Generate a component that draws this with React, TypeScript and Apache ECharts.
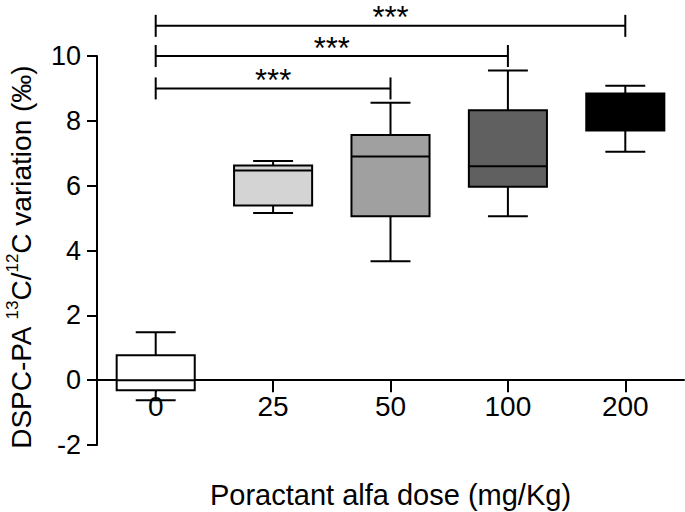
import React, { useEffect, useRef } from "react";
import * as echarts from "echarts";

const categories = ["0", "25", "50", "100", "200"];
const whiskerLow = [-0.62, 5.16, 3.67, 5.06, 7.05];
const quartile1 = [-0.31, 5.39, 5.06, 5.97, 7.7];
const medians = [0.0, 6.47, 6.9, 6.6, 8.3];
const quartile3 = [0.77, 6.62, 7.56, 8.33, 8.84];
const whiskerHigh = [1.48, 6.76, 8.56, 9.55, 9.08];
const boxFills = ["#ffffff", "#d4d4d4", "#a0a0a0", "#606060", "#000000"];

const yMin = -2;
const yMax = 10;
const yInterval = 2;

const compareFrom = [0, 0, 0];
const compareTo = [2, 3, 4];
const compareLevel = [9.0, 10.0, 10.93];
const compareLabel = ["***", "***", "***"];

const FONT = "'Liberation Sans', Arial, sans-serif";

const GRID_TOP = 56;
const GRID_BOTTOM = 67;
const HEIGHT = 512;

export default function App() {
  const ref = useRef<HTMLDivElement>(null);

  useEffect(() => {
    if (!ref.current) return;
    const chart = echarts.init(ref.current, undefined, { renderer: "svg" });

    const boxData = categories.map((_, i) => [
      i,
      whiskerLow[i],
      quartile1[i],
      medians[i],
      quartile3[i],
      whiskerHigh[i],
    ]);
    const bracketData = compareFrom.map((f, i) => [f, compareTo[i], compareLevel[i]]);

    const gridHeight = HEIGHT - GRID_TOP - GRID_BOTTOM;
    const zeroOffset = -((0 - yMin) / (yMax - yMin)) * gridHeight;

    const option: any = {
      animation: false,
      backgroundColor: "#ffffff",
      grid: {
        left: 97,
        right: 1,
        top: GRID_TOP,
        bottom: GRID_BOTTOM,
        containLabel: false,
        outerBoundsMode: "none",
      },
      xAxis: {
        type: "category",
        data: categories,
        position: "bottom",
        offset: zeroOffset,
        name: "Poractant alfa dose (mg/Kg)",
        nameLocation: "middle",
        nameGap: 100,
        nameTextStyle: { fontSize: 29, color: "#000", fontFamily: FONT },
        axisLine: { show: true, onZero: false, lineStyle: { color: "#000", width: 2 } },
        axisTick: { show: true, alignWithLabel: true, length: 12, lineStyle: { color: "#000", width: 2 } },
        axisLabel: { show: true, fontSize: 28, color: "#000", fontFamily: FONT, margin: 12 },
        splitLine: { show: false },
      },
      yAxis: {
        type: "value",
        min: yMin,
        max: yMax,
        interval: yInterval,
        name: "DSPC-PA {sup|13}C/{sup|12}C variation (‰)",
        nameLocation: "middle",
        nameRotate: 90,
        nameGap: 59,
        nameTextStyle: {
          fontSize: 28,
          color: "#000",
          fontFamily: FONT,
          lineHeight: 34,
          padding: [0, 14, 0, 0],
          rich: {
            sup: { fontSize: 17, color: "#000", fontFamily: FONT, verticalAlign: "top", lineHeight: 34 },
          },
        },
        axisLine: { show: true, onZero: false, lineStyle: { color: "#000", width: 2 } },
        axisTick: { show: true, length: 10, lineStyle: { color: "#000", width: 2 } },
        axisLabel: { fontSize: 27, color: "#000", fontFamily: FONT, margin: 16 },
        splitLine: { show: false },
      },
      series: [
        {
          type: "custom",
          clip: false,
          encode: { x: 0, y: [1, 2, 3, 4, 5] },
          data: boxData,
          renderItem: (params: any, api: any) => {
            const i = api.value(0);
            const lo = api.coord([i, api.value(1)]);
            const q1 = api.coord([i, api.value(2)]);
            const md = api.coord([i, api.value(3)]);
            const q3 = api.coord([i, api.value(4)]);
            const hi = api.coord([i, api.value(5)]);
            const band = api.size([1, 0])[0];
            const bw = band * 0.665;
            const cw = band * 0.34;
            const x = q1[0];
            const stroke = { stroke: "#000", lineWidth: 2 };
            return {
              type: "group",
              children: [
                { type: "line", shape: { x1: x, y1: q3[1], x2: x, y2: hi[1] }, style: stroke },
                { type: "line", shape: { x1: x - cw / 2, y1: hi[1], x2: x + cw / 2, y2: hi[1] }, style: stroke },
                { type: "line", shape: { x1: x, y1: q1[1], x2: x, y2: lo[1] }, style: stroke },
                { type: "line", shape: { x1: x - cw / 2, y1: lo[1], x2: x + cw / 2, y2: lo[1] }, style: stroke },
                {
                  type: "rect",
                  shape: { x: x - bw / 2, y: q3[1], width: bw, height: q1[1] - q3[1] },
                  style: { fill: boxFills[params.dataIndex], stroke: "#000", lineWidth: 2 },
                },
                { type: "line", shape: { x1: x - bw / 2, y1: md[1], x2: x + bw / 2, y2: md[1] }, style: stroke },
              ],
            };
          },
        },
        {
          type: "custom",
          clip: false,
          encode: { x: [0, 1], y: 2 },
          data: bracketData,
          renderItem: (params: any, api: any) => {
            const a = api.coord([api.value(0), api.value(2)]);
            const b = api.coord([api.value(1), api.value(2)]);
            const stroke = { stroke: "#000", lineWidth: 2 };
            const h = 11;
            return {
              type: "group",
              children: [
                { type: "line", shape: { x1: a[0], y1: a[1], x2: b[0], y2: b[1] }, style: stroke },
                { type: "line", shape: { x1: a[0], y1: a[1] - h, x2: a[0], y2: a[1] + h }, style: stroke },
                { type: "line", shape: { x1: b[0], y1: b[1] - h, x2: b[0], y2: b[1] + h }, style: stroke },
                {
                  type: "text",
                  x: (a[0] + b[0]) / 2,
                  y: a[1] + 2,
                  style: {
                    text: compareLabel[params.dataIndex],
                    fontSize: 31,
                    lineHeight: 20,
                    fontFamily: FONT,
                    fill: "#000",
                    textAlign: "center",
                    textVerticalAlign: "bottom",
                  },
                },
              ],
            };
          },
        },
      ],
    };

    chart.setOption(option);
    return () => chart.dispose();
  }, []);

  return (
    <div
      ref={ref}
      style={{ position: "fixed", left: 0, top: 0, width: 685, height: 512, background: "#fff" }}
    />
  );
}
